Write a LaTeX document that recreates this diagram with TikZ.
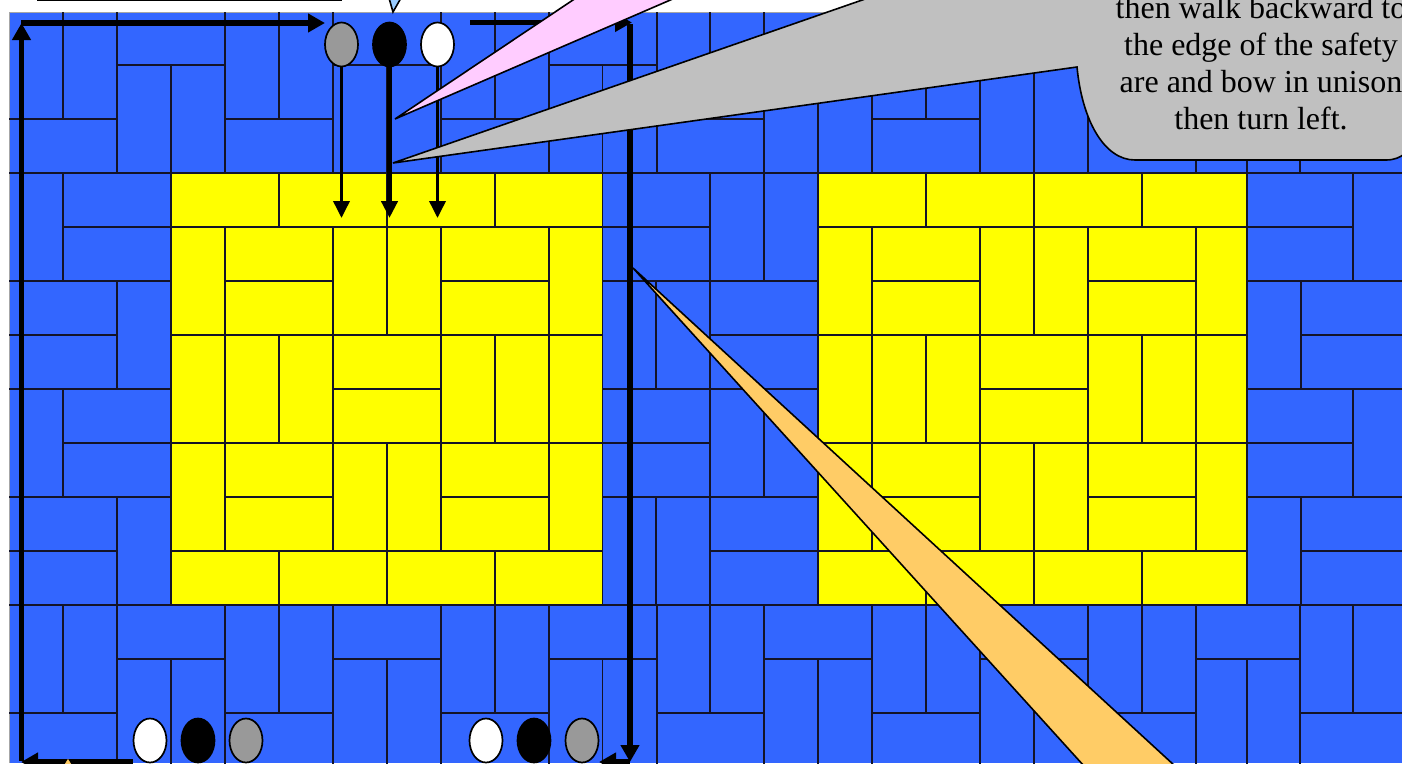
\documentclass[tikz,border=0pt]{standalone}
\usepackage{fontspec}
\setmainfont{Liberation Serif}
\usetikzlibrary{arrows.meta,shapes.geometric}
\definecolor{tileblue}{HTML}{3366FF}
\definecolor{tileyellow}{HTML}{FFFF00}
\definecolor{grout}{HTML}{141428}
\definecolor{pinkc}{HTML}{FFCCFF}
\definecolor{grayc}{HTML}{C0C0C0}
\definecolor{orangec}{HTML}{FFCC66}
\definecolor{skyc}{HTML}{99CCFF}
\tikzset{
  grid line/.style={grout,line width=1.7pt,line cap=rect},
  dancer/.style={ellipse,draw=black,line width=1.7pt,minimum width=33pt,minimum height=44pt,inner sep=0pt},
  walk/.style={black,line width=3.6pt,-{Triangle[length=17pt,width=16pt]},shorten >=0pt},
  march/.style={black,line width=5.4pt,-{Triangle[length=17pt,width=18pt]}},
  callout/.style={draw=black,line width=1.6pt,line join=miter},
  say/.style={font=\fontsize{32}{37}\selectfont,align=center,inner sep=0pt,text=black}
}
\newcommand{\squarelines}[9]{%
  \draw[grid line] (#1,227)--(#9,227) (#1,335)--(#9,335) (#1,443)--(#9,443) (#1,551)--(#9,551);
  \draw[grid line] (#3,173)--(#3,227) (#5,173)--(#5,227) (#7,173)--(#7,227);
  \draw[grid line] (#3,551)--(#3,605) (#5,551)--(#5,605) (#7,551)--(#7,605);
  \draw[grid line] (#2,227)--(#2,551) (#4,227)--(#4,551) (#6,227)--(#6,551) (#8,227)--(#8,551);
  \draw[grid line] (#2,281)--(#4,281) (#6,281)--(#8,281) (#2,497)--(#4,497) (#6,497)--(#8,497);
  \draw[grid line] (#5,227)--(#5,335) (#5,443)--(#5,551);
  \draw[grid line] (#3,335)--(#3,443) (#7,335)--(#7,443);
  \draw[grid line] (#4,389)--(#6,389);
}
\begin{document}
\begin{tikzpicture}[x=1pt,y=-1pt]
\useasboundingbox (0,0) rectangle (1402,763);
\clip (0,0) rectangle (1402,763);
\fill[white] (0,0) rectangle (1402,763);
\fill[tileblue] (9.5,12) rectangle (1402,763);
\draw[gray!70,line width=0.8pt] (9.5,763)--(9.5,12)--(1402,12);
\fill[tileyellow] (171,173) rectangle (602.5,605);
\fill[tileyellow] (818,173) rectangle (1247,605);

% top and bottom bands of the paving
\foreach \yy [evaluate=\yy as \ya using int(\yy+54), evaluate=\yy as \yb using int(\yy+108), evaluate=\yy as \yc using int(\yy+162)] in {11,605} {
  \foreach \xa/\xm/\xb in {9.5/63/117,225/279/333,441/495/549,657/710/764,872/926/980,1088/1142/1196,1300/1353/1410} {
    \draw[grid line] (\xm,\yy+1.5)--(\xm,\yb);
    \draw[grid line] (\xa,\yb)--(\xb,\yb);
  }
  \foreach \xa/\xm/\xb in {117/171/225,333/387/441,549/602.5/657,764/818/872,980/1034/1088,1196/1247/1300} {
    \draw[grid line] (\xa,\ya)--(\xb,\ya);
    \draw[grid line] (\xm,\ya)--(\xm,\yc);
  }
  \foreach \xx in {117,225,333,441,549,657,764,872,980,1088,1196,1300}
    \draw[grid line] (\xx,\yy+1.5)--(\xx,\yc);
}
% long courses
\draw[grid line] (9.5,173)--(1402,173) (9.5,605)--(1402,605);
\draw[grid line] (9.5,281)--(171,281) (9.5,389)--(171,389) (9.5,497)--(171,497);
\draw[grid line] (602.5,281)--(818,281) (602.5,389)--(818,389) (602.5,497)--(818,497);
\draw[grid line] (1247,281)--(1402,281) (1247,389)--(1402,389) (1247,497)--(1402,497);
\draw[grid line] (171,173)--(171,605) (602.5,173)--(602.5,605) (818,173)--(818,605) (1247,173)--(1247,605) (710,173)--(710,605);
% left band
\draw[grid line] (63,173)--(63,281) (63,227)--(171,227);
\draw[grid line] (117,281)--(117,389) (9.5,335)--(117,335);
\draw[grid line] (63,389)--(63,497) (63,443)--(171,443);
\draw[grid line] (117,497)--(117,605) (9.5,551)--(117,551);
% middle band
\draw[grid line] (602.5,227)--(710,227) (764,173)--(764,281);
\draw[grid line] (656,281)--(656,389) (710,335)--(818,335);
\draw[grid line] (602.5,443)--(710,443) (764,389)--(764,497);
\draw[grid line] (656,497)--(656,605) (710,551)--(818,551);
% right band
\draw[grid line] (1353,173)--(1353,281) (1247,227)--(1353,227);
\draw[grid line] (1301,281)--(1301,389) (1301,335)--(1402,335);
\draw[grid line] (1353,389)--(1353,497) (1247,443)--(1353,443);
\draw[grid line] (1301,497)--(1301,605) (1301,551)--(1402,551);
% yellow squares
\squarelines{171}{225}{279}{333}{387}{441}{495}{549}{602.5}
\squarelines{818}{872}{926}{980}{1034}{1088}{1142}{1196}{1247}

% dancers
\node[dancer,fill=black!40] (g1) at (341.5,44.5) {};
\node[dancer,fill=black] (k1) at (389.5,44.5) {};
\node[dancer,fill=white] (w1) at (437.5,44.5) {};
\node[dancer,fill=white] (w2) at (150,740.5) {};
\node[dancer,fill=black] (k2) at (198,740.5) {};
\node[dancer,fill=black!40] (g2) at (246,740.5) {};
\node[dancer,fill=white] (w3) at (486,740.5) {};
\node[dancer,fill=black] (k3) at (534,740.5) {};
\node[dancer,fill=black!40] (g3) at (582,740.5) {};

\coordinate (g1end) at (341.5,218);
\coordinate (k1end) at (389.5,218);
\coordinate (w1end) at (437.5,218);
\draw[walk] (g1.south) -- (g1end);
\draw[walk,line width=5pt] (k1.south) -- (k1end);
\draw[walk] (w1.south) -- (w1end);

% marching routes
\coordinate (bl) at (21.5,761);
\coordinate (tl) at (21.5,23);
\coordinate (tlend) at (325,23);
\coordinate (tr0) at (470,22.5);
\coordinate (tr) at (632,22.5);
\coordinate (rv0) at (630,24);
\coordinate (rv) at (630,762);
\coordinate (br0) at (630,762);
\coordinate (br) at (599,762);
\coordinate (bl0) at (133,762);
\coordinate (bl1) at (21,762);
\draw[march,line width=5.5pt] (bl) -- (tl);
\draw[march] (21,23) -- (tlend);
\draw[march,line width=5pt] (tr0) -- (tr);
\draw[march] (rv0) -- (rv);
\draw[march] (br0) -- (br);
\draw[march] (bl0) -- (bl1);

% callouts
\draw[black,line width=1.6pt] (37,0.5)--(342,0.5);
\coordinate (skytip) at (393,12);
\draw[callout,fill=skyc] (389,-2)--(skytip)--(401,-2);
\coordinate (pinktip) at (395,119);
\draw[callout,fill=pinkc] (576,-2)--(pinktip)--(675,-2);
\coordinate (graytip) at (393,163);
\draw[callout,fill=grayc] (868,-2)--(graytip)--(1077,67) .. controls (1082,120) and (1104,160) .. (1135,160)--(1386,160) .. controls (1402,160) and (1410,150) .. (1415,140)--(1415,-2)--cycle;
\node[say] (saying) at (1261,63.5) {then walk backward to\\the edge of the safety\\are and bow in unison\\then turn left.};
\coordinate (orangetip) at (633,268);
\draw[callout,fill=orangec] (1084,766)--(orangetip)--(1175,766);
\coordinate (lowtip) at (68,759.5);
\draw[line width=0.6pt,draw=orangec,fill=orangec] (64,766)--(lowtip)--(72,766);
\end{tikzpicture}
\end{document}
